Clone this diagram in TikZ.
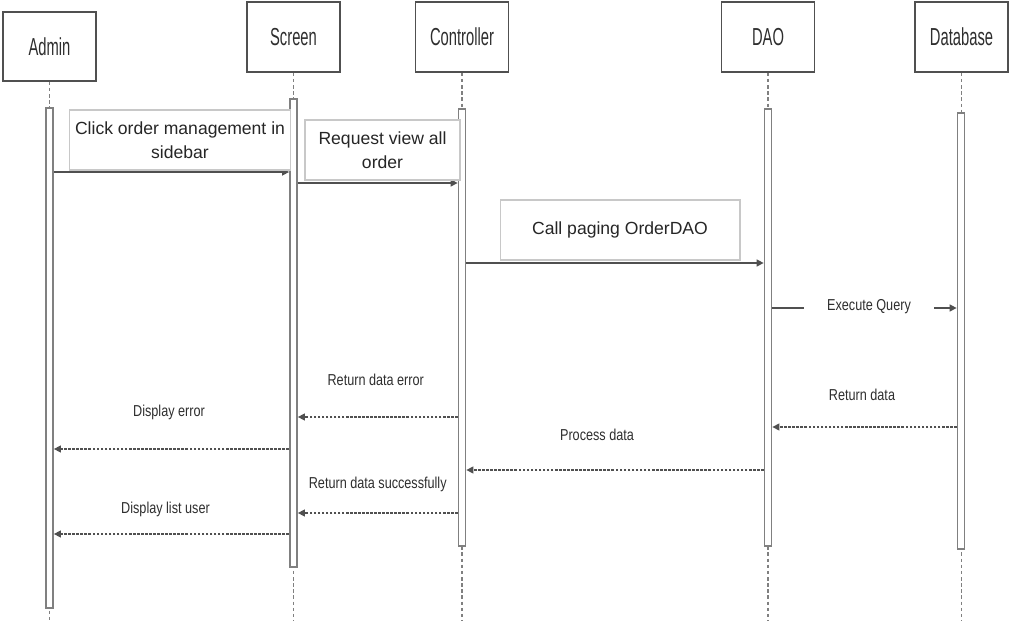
\documentclass[tikz,border=0pt]{standalone}
\usepackage{fontspec}
\setmainfont{Liberation Sans}
\usetikzlibrary{arrows.meta}

\definecolor{linegray}{HTML}{505050}
\definecolor{bargray}{HTML}{808080}
\definecolor{notegray}{HTML}{C8C8C8}
\definecolor{textgray}{HTML}{2E2E2E}

\tikzstyle{actor}=[draw=linegray,line width=0.9pt,minimum width=1.86cm,minimum height=1.4cm,inner sep=0pt,text=textgray,font=\fontsize{14}{16}\selectfont]
\tikzstyle{bar}=[draw=bargray,fill=white,line width=1pt,minimum width=0.14cm,inner sep=0pt]
\tikzstyle{lifeline}=[draw=bargray,line width=0.7pt,dash pattern=on 2pt off 1.5pt]
\tikzstyle{call}=[draw=linegray,line width=0.8pt,-{Triangle[length=4pt,width=4pt]}]
\tikzstyle{reply}=[draw=linegray,line width=0.7pt,dash pattern=on 1.5pt off 0.8pt,-{Triangle[length=4pt,width=4pt]}]
\tikzstyle{note}=[draw=notegray,fill=white,line width=0.6pt,align=center,minimum height=1.2cm,text=black!85,font=\fontsize{10}{13.5}\selectfont]
\tikzstyle{msglbl}=[text=textgray,font=\fontsize{9}{11}\selectfont]
\newcommand{\narrowtxt}[1]{\scalebox{0.6}[1]{#1}}
\newcommand{\squeezetxt}[1]{\scalebox{0.8}[1]{#1}}

\begin{document}
\begin{tikzpicture}[x=0.02cm, y=-0.02cm]
    \useasboundingbox (0,0) rectangle (1011,621);
    % Participants
    \node[actor, minimum height=1.38cm] (admin) at (49.5,46.5) {\narrowtxt{Admin}};
    \foreach \name/\x/\txt in {screen/293.5/Screen, controller/462/Controller, dao/768/DAO, database/961.5/Database}
        \node[actor] (\name) at (\x,37) {\narrowtxt{\txt}};
    % Lifelines and activation bars
    \foreach \name in {admin, screen, controller, dao, database}
        \path[lifeline] (\name.south) -- (\name.south |- 0,621);
    \foreach \name/\x/\top/\bot in {admin/49.5/107/607, screen/293.5/98/566, controller/462/108/545, dao/768/108/545, database/961/112/548}
        \node[bar, minimum height={(\bot-\top)*0.02cm}, anchor=north] (\name-bar) at (\x,\top) {};
    % Calls
    \foreach \src/\dst/\y in {admin/screen/172, screen/controller/183, controller/dao/263}
        \path[call] (\src-bar.east |- 0,\y) -- (\dst-bar.west |- 0,\y);
    \node[note, minimum width=4.4cm] (clicknote) at (180,140) {Click order management in\\sidebar};
    \node[note, minimum width=3.1cm] (requestnote) at (382.5,150) {Request view all\\order};
    \node[note, minimum width=4.8cm] (pagingnote) at (620,230) {Call paging OrderDAO};
    \path[call] (dao-bar.east |- 0,308) -- node[msglbl, fill=white, inner xsep=13pt, xshift=0.09cm, yshift=0.03cm] {\squeezetxt{Execute Query}} (database-bar.west |- 0,308);
    % Replies
    \foreach \src/\dst/\y/\dx/\dy/\txt in {database/dao/427/-0.05cm/0.64cm/Return data, controller/screen/417/-0.04cm/0.74cm/Return data error, screen/admin/449/-0.05cm/0.74cm/Display error, dao/controller/470/-0.36cm/0.70cm/Process data, controller/screen/513/0cm/0.58cm/Return data successfully, screen/admin/534/-0.12cm/0.50cm/Display list user}
        \path[reply] (\src-bar.west |- 0,\y) -- node[msglbl, xshift=\dx, yshift=\dy] {\squeezetxt{\txt}} (\dst-bar.east |- 0,\y);
\end{tikzpicture}
\end{document}
